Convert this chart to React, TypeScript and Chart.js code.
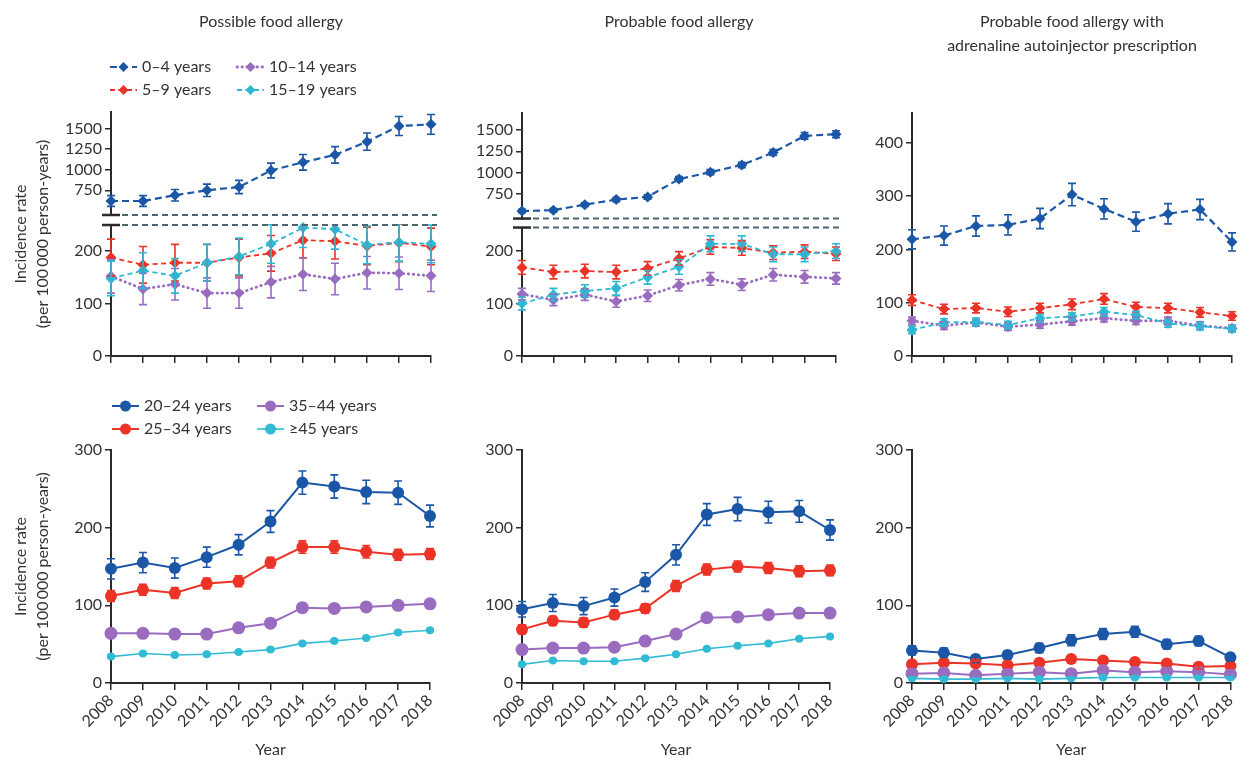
import React, { useEffect, useRef } from 'react';
import { Chart, registerables } from 'chart.js';

Chart.register(...registerables);

const FONT = 'Lato';
const TEXT = '#333333';
const AXIS = '#2a2a2a';
Chart.defaults.font.family = FONT;

// ---------- categories & labels ----------
const YEARS = ['2008', '2009', '2010', '2011', '2012', '2013', '2014', '2015', '2016', '2017', '2018'];
const CHILD_GROUPS = ['0–4 years', '5–9 years', '10–14 years', '15–19 years'];
const ADULT_GROUPS = ['20–24 years', '25–34 years', '35–44 years', '≥45 years'];
const PANEL_TITLES = [
  ['Possible food allergy'],
  ['Probable food allergy'],
  ['Probable food allergy with', 'adrenaline autoinjector prescription'],
];
const Y_TITLE = ['Incidence rate', '(per 100\u2009000 person-years)'];
const X_TITLE = 'Year';

// ---------- tick labels ----------
const UPPER_TICKS = [750, 1000, 1250, 1500];
const LOWER_TICKS = [0, 100, 200];
const EAI_CHILD_TICKS = [0, 100, 200, 300, 400];
const ADULT_TICKS = [0, 100, 200, 300];

// ---------- Possible food allergy, children ----------
const POSS_0_4 = [620, 620, 690, 750, 790, 990, 1090, 1180, 1340, 1530, 1550];
const POSS_0_4_ERR = [65, 65, 70, 75, 80, 90, 95, 100, 105, 115, 120];
const POSS_5_9 = [188, 174, 178, 178, 188, 196, 221, 219, 210, 216, 209];
const POSS_5_9_ERR = [35, 35, 35, 35, 35, 34, 34, 34, 36, 36, 35];
const POSS_10_14 = [152, 128, 137, 120, 120, 141, 156, 147, 159, 158, 153];
const POSS_10_14_ERR = [32, 30, 30, 29, 29, 30, 31, 30, 31, 31, 30];
const POSS_15_19 = [148, 163, 153, 178, 190, 214, 245, 242, 212, 217, 214];
const POSS_15_19_ERR = [33, 34, 33, 35, 35, 37, 38, 38, 36, 36, 36];

// ---------- Probable food allergy, children ----------
const PROB_0_4 = [550, 560, 625, 684, 715, 925, 1005, 1090, 1235, 1430, 1450];
const PROB_0_4_ERR = [20, 20, 22, 24, 25, 28, 30, 32, 35, 40, 40];
const PROB_5_9 = [169, 160, 162, 160, 167, 186, 208, 206, 197, 199, 195];
const PROB_5_9_ERR = [13, 13, 13, 13, 13, 13, 14, 14, 13, 13, 13];
const PROB_10_14 = [118, 107, 117, 104, 115, 135, 147, 136, 155, 151, 148];
const PROB_10_14_ERR = [11, 11, 11, 11, 11, 11, 12, 11, 12, 12, 11];
const PROB_15_19 = [100, 117, 124, 129, 150, 170, 214, 214, 194, 194, 200];
const PROB_15_19_ERR = [12, 12, 12, 13, 13, 14, 15, 15, 14, 14, 14];

// ---------- Probable + adrenaline autoinjector, children ----------
const EAI_0_4 = [219, 226, 244, 246, 258, 303, 276, 252, 267, 275, 214];
const EAI_0_4_ERR = [18, 18, 19, 19, 19, 21, 19, 18, 19, 19, 17];
const EAI_5_9 = [105, 88, 90, 83, 90, 97, 107, 92, 90, 82, 75];
const EAI_5_9_ERR = [10, 9, 9, 9, 9, 10, 10, 9, 9, 9, 8];
const EAI_10_14 = [66, 57, 63, 55, 59, 65, 71, 66, 66, 57, 52];
const EAI_10_14_ERR = [7, 7, 7, 7, 7, 7, 7, 7, 7, 7, 6];
const EAI_15_19 = [49, 63, 64, 58, 71, 74, 83, 77, 61, 56, 51];
const EAI_15_19_ERR = [7, 7, 7, 7, 7, 7, 8, 7, 7, 7, 6];

// ---------- Possible food allergy, adults ----------
const POSS_20_24 = [147, 155, 148, 162, 178, 208, 258, 253, 246, 245, 215];
const POSS_20_24_ERR = [13, 13, 13, 13, 13, 14, 15, 15, 15, 15, 14];
const POSS_25_34 = [112, 120, 116, 128, 131, 155, 175, 175, 169, 165, 166];
const POSS_25_34_ERR = [7, 7, 7, 7, 7, 7, 8, 8, 8, 7, 7];
const POSS_35_44 = [64, 64, 63, 63, 71, 77, 97, 96, 98, 100, 102];
const POSS_35_44_ERR = [4, 4, 4, 4, 4, 4, 4, 4, 4, 4, 4];
const POSS_45 = [34, 38, 36, 37, 40, 43, 51, 54, 58, 65, 68];
const POSS_45_ERR = [1.5, 1.5, 1.5, 1.5, 1.5, 1.5, 1.5, 1.5, 1.5, 1.5, 1.5];

// ---------- Probable food allergy, adults ----------
const PROB_20_24 = [95, 103, 99, 110, 130, 165, 217, 224, 220, 221, 197];
const PROB_20_24_ERR = [10, 11, 11, 11, 12, 13, 14, 15, 14, 14, 13];
const PROB_25_34 = [69, 80, 78, 88, 96, 125, 146, 150, 148, 144, 145];
const PROB_25_34_ERR = [6, 6, 6, 6, 6, 7, 7, 7, 7, 7, 7];
const PROB_35_44 = [43, 45, 45, 46, 54, 63, 84, 85, 88, 90, 90];
const PROB_35_44_ERR = [3, 3, 3, 3, 3, 4, 4, 4, 4, 4, 4];
const PROB_45 = [24, 29, 28, 28, 32, 37, 44, 48, 51, 57, 60];
const PROB_45_ERR = [1, 1, 1, 1, 1, 1, 1, 1, 1, 1, 1];

// ---------- Probable + adrenaline autoinjector, adults ----------
const EAI_20_24 = [42, 39, 31, 36, 45, 55, 63, 66, 50, 54, 33];
const EAI_20_24_ERR = [6, 6, 5, 5, 6, 7, 7, 7, 6, 6, 5];
const EAI_25_34 = [24, 26, 25, 23, 26, 31, 29, 27, 25, 21, 22];
const EAI_25_34_ERR = [3, 3, 3, 3, 3, 3, 3, 3, 3, 3, 3];
const EAI_35_44 = [12, 13, 10, 12, 14, 12, 16, 14, 15, 14, 11];
const EAI_35_44_ERR = [2, 2, 2, 2, 2, 2, 2, 2, 2, 2, 2];
const EAI_45 = [6, 5, 5, 6, 5, 6, 7, 7, 7, 7, 7];
const EAI_45_ERR = [1, 1, 1, 1, 1, 1, 1, 1, 1, 1, 1];

// ---------- styles ----------
const CHILD_STYLES = [
  { color: '#1b57a6', dash: [7, 4], width: 2.2, cap: 'butt' },
  { color: '#ec3327', dash: [5, 3.5], width: 1.8, cap: 'butt' },
  { color: '#9a6cc0', dash: [0.5, 4.5], width: 2.8, cap: 'round' },
  { color: '#2db8d3', dash: [5, 3.5], width: 1.8, cap: 'butt' },
];
const ADULT_STYLES = [
  { color: '#1b57a6', width: 2, radius: 6 },
  { color: '#ec3327', width: 2, radius: 6 },
  { color: '#9a6cc0', width: 2, radius: 6.5 },
  { color: '#31bbd4', width: 1.6, radius: 4 },
];

const PANELS: any[] = [
  {
    left: 0, top: 0, width: 450, height: 380,
    pad: { left: 61, right: 19, top: 112, bottom: 14 },
    child: true, title: PANEL_TITLES[0], yTitle: true,
    legend: { rows: [67, 90], cols: [-1, 126] },
    broken: { upperMin: 450, upperMax: 1700, lowerMax: 250, weights: [103, 10, 131] },
    series: [
      [POSS_0_4, POSS_0_4_ERR], [POSS_5_9, POSS_5_9_ERR], [POSS_10_14, POSS_10_14_ERR], [POSS_15_19, POSS_15_19_ERR],
    ],
  },
  {
    left: 450, top: 0, width: 410, height: 380,
    pad: { left: 22, right: 24, top: 113, bottom: 14 },
    child: true, title: PANEL_TITLES[1],
    broken: { upperMin: 462, upperMax: 1698, lowerMax: 245, weights: [106, 9, 129] },
    series: [
      [PROB_0_4, PROB_0_4_ERR], [PROB_5_9, PROB_5_9_ERR], [PROB_10_14, PROB_10_14_ERR], [PROB_15_19, PROB_15_19_ERR],
    ],
  },
  {
    left: 860, top: 0, width: 385, height: 380,
    pad: { left: 2, right: 13, top: 113, bottom: 14 },
    child: true, title: PANEL_TITLES[2],
    yMax: 456, yTicks: EAI_CHILD_TICKS,
    series: [
      [EAI_0_4, EAI_0_4_ERR], [EAI_5_9, EAI_5_9_ERR], [EAI_10_14, EAI_10_14_ERR], [EAI_15_19, EAI_15_19_ERR],
    ],
  },
  {
    left: 0, top: 380, width: 450, height: 380,
    pad: { left: 61, right: 20, top: 70, bottom: 1 },
    child: false, yTitle: true,
    legend: { rows: [26, 49], cols: [1, 146] },
    yMax: 300, yTicks: ADULT_TICKS,
    series: [
      [POSS_20_24, POSS_20_24_ERR], [POSS_25_34, POSS_25_34_ERR], [POSS_35_44, POSS_35_44_ERR], [POSS_45, POSS_45_ERR],
    ],
  },
  {
    left: 450, top: 380, width: 410, height: 380,
    pad: { left: 22, right: 30, top: 70, bottom: 1 },
    child: false,
    yMax: 300, yTicks: ADULT_TICKS,
    series: [
      [PROB_20_24, PROB_20_24_ERR], [PROB_25_34, PROB_25_34_ERR], [PROB_35_44, PROB_35_44_ERR], [PROB_45, PROB_45_ERR],
    ],
  },
  {
    left: 860, top: 380, width: 385, height: 380,
    pad: { left: 2, right: 13, top: 70, bottom: 1 },
    child: false,
    yMax: 300, yTicks: ADULT_TICKS,
    series: [
      [EAI_20_24, EAI_20_24_ERR], [EAI_25_34, EAI_25_34_ERR], [EAI_35_44, EAI_35_44_ERR], [EAI_45, EAI_45_ERR],
    ],
  },
];

// ---------- plugins ----------
function drawMarker(ctx: any, style: string, x: number, y: number, r: number) {
  ctx.beginPath();
  if (style === 'rectRot') {
    ctx.moveTo(x, y - r); ctx.lineTo(x + r, y); ctx.lineTo(x, y + r); ctx.lineTo(x - r, y); ctx.closePath();
  } else {
    ctx.arc(x, y, r, 0, Math.PI * 2);
  }
  ctx.fill();
}

const errorBarPlugin = {
  id: 'errorBars',
  afterDatasetsDraw(chart: any) {
    const ctx = chart.ctx;
    chart.data.datasets.forEach((ds: any, i: number) => {
      if (!ds.errors) return;
      const meta = chart.getDatasetMeta(i);
      const ys = chart.scales[meta.yAxisID];
      const xs = chart.scales[meta.xAxisID];
      ctx.save();
      ctx.beginPath();
      ctx.rect(0, ys.top - 1, chart.width, ys.bottom - ys.top + 2);
      ctx.clip();
      ctx.strokeStyle = ds.borderColor;
      ctx.lineWidth = 1.6;
      ctx.setLineDash([]);
      const cap = 4;
      ds.data.forEach((v: number, j: number) => {
        const x = xs.getPixelForValue(j);
        const y1 = ys.getPixelForValue(v - ds.errors[j]);
        const y2 = ys.getPixelForValue(v + ds.errors[j]);
        ctx.beginPath();
        ctx.moveTo(x, y1); ctx.lineTo(x, y2);
        ctx.moveTo(x - cap, y1); ctx.lineTo(x + cap, y1);
        ctx.moveTo(x - cap, y2); ctx.lineTo(x + cap, y2);
        ctx.stroke();
      });
      ctx.restore();
    });
  },
};

const breakPlugin = {
  id: 'axisBreak',
  afterDraw(chart: any) {
    const t = chart.scales.yTop, b = chart.scales.yBot;
    if (!t || !b) return;
    const ctx = chart.ctx;
    const { left, right } = chart.chartArea;
    ctx.save();
    [t.bottom, b.top].forEach((y: number) => {
      ctx.strokeStyle = '#4e6570';
      ctx.lineWidth = 2;
      ctx.setLineDash([6, 4]);
      ctx.beginPath(); ctx.moveTo(left + 11, y); ctx.lineTo(right + 6, y); ctx.stroke();
      ctx.setLineDash([]);
      ctx.strokeStyle = AXIS;
      ctx.lineWidth = 2.5;
      ctx.beginPath(); ctx.moveTo(left - 9, y); ctx.lineTo(left + 9, y); ctx.stroke();
    });
    ctx.restore();
  },
};

function decorPlugin(def: any) {
  return {
    id: 'decor',
    afterDraw(chart: any) {
      const ctx = chart.ctx;
      const ca = chart.chartArea;
      ctx.save();
      ctx.fillStyle = TEXT;
      ctx.textAlign = 'center';
      ctx.textBaseline = 'middle';
      ctx.font = `16px ${FONT}`;
      if (def.title) {
        def.title.forEach((t: string, i: number) => ctx.fillText(t, (ca.left + ca.right) / 2, 22 + i * 24));
      }
      if (def.yTitle) {
        const cy = (ca.top + ca.bottom) / 2;
        Y_TITLE.forEach((t, i) => {
          ctx.save();
          ctx.translate(21 + i * 22, cy);
          ctx.rotate(-Math.PI / 2);
          ctx.fillText(t, 0, 0);
          ctx.restore();
        });
      }
      if (def.legend) {
        const L = def.legend;
        chart.data.datasets.forEach((ds: any, i: number) => {
          const col = i < 2 ? 0 : 1;
          const row = i % 2;
          const x0 = ca.left + L.cols[col];
          const y = L.rows[row];
          ctx.strokeStyle = ds.borderColor;
          ctx.lineWidth = ds.borderWidth;
          ctx.lineCap = ds.borderCapStyle || 'butt';
          ctx.setLineDash(ds.borderDash || []);
          ctx.beginPath(); ctx.moveTo(x0, y); ctx.lineTo(x0 + 27, y); ctx.stroke();
          ctx.setLineDash([]);
          ctx.fillStyle = ds.borderColor;
          drawMarker(ctx, ds.pointStyle, x0 + 13.5, y, ds.pointStyle === 'rectRot' ? 5 : 5.5);
          ctx.fillStyle = TEXT;
          ctx.textAlign = 'left';
          ctx.font = `16px ${FONT}`;
          ctx.fillText(ds.label, x0 + 32, y);
        });
      }
      ctx.restore();
    },
  };
}

// ---------- config ----------
function yScale(min: number, max: number, ticks: number[], extra: any = {}) {
  return {
    type: 'linear',
    position: 'left',
    min, max,
    afterBuildTicks: (s: any) => { s.ticks = ticks.map((v) => ({ value: v })); },
    afterFit: (s: any) => { s.width = 50; },
    grid: { drawOnChartArea: false, drawTicks: true, tickLength: 6, color: AXIS, lineWidth: 1.5 },
    border: { display: true, color: AXIS, width: 2 },
    ticks: {
      font: { family: FONT, size: 16 }, color: TEXT, padding: 3, autoSkip: false,
      callback: (v: any) => String(v),
    },
    ...extra,
  };
}

function buildConfig(def: any) {
  const labels = def.child ? CHILD_GROUPS : ADULT_GROUPS;
  const datasets = def.series.map((s: any, i: number) => {
    const st: any = def.child ? CHILD_STYLES[i] : ADULT_STYLES[i];
    const yAxisID = def.broken ? (i === 0 ? 'yTop' : 'yBot') : 'y';
    return {
      label: labels[i],
      data: s[0],
      errors: s[1],
      yAxisID,
      borderColor: st.color,
      backgroundColor: st.color,
      borderWidth: st.width,
      borderDash: def.child ? st.dash : [],
      borderCapStyle: def.child ? st.cap : 'butt',
      pointStyle: def.child ? 'rectRot' : 'circle',
      pointRadius: def.child ? 5.5 : st.radius,
      pointBorderWidth: 0,
      pointBackgroundColor: st.color,
      fill: false,
      tension: 0,
      clip: false,
      order: 3 - i,
    };
  });

  const scales: any = {
    x: {
      type: 'category',
      offset: false,
      afterFit: (s: any) => { s.height = def.child ? 10 : 76; },
      grid: { drawOnChartArea: false, drawTicks: true, tickLength: 7, color: AXIS, lineWidth: 1.5, offset: false },
      border: { display: true, color: AXIS, width: 2 },
      ticks: def.child
        ? { display: false }
        : { font: { family: FONT, size: 16 }, color: TEXT, minRotation: 45, maxRotation: 45, padding: 1, autoSkip: false },
      title: def.child
        ? { display: false }
        : { display: true, text: X_TITLE, font: { family: FONT, size: 16 }, color: TEXT, padding: 0 },
    },
  };
  if (def.broken) {
    const b = def.broken;
    scales.yTop = yScale(b.upperMin, b.upperMax, UPPER_TICKS, { stack: 'brk', stackWeight: b.weights[0], weight: 3 });
    scales.yGap = {
      type: 'linear', position: 'left', min: 0, max: 1, stack: 'brk', stackWeight: b.weights[1], weight: 2,
      afterBuildTicks: (s: any) => { s.ticks = []; },
      afterFit: (s: any) => { s.width = 50; },
      grid: { display: false }, border: { display: false }, ticks: { display: false },
    };
    scales.yBot = yScale(0, b.lowerMax, LOWER_TICKS, { stack: 'brk', stackWeight: b.weights[2], weight: 1 });
  } else {
    scales.y = yScale(0, def.yMax, def.yTicks);
  }

  return {
    type: 'line',
    data: { labels: YEARS, datasets },
    options: {
      responsive: false,
      animation: false,
      devicePixelRatio: 1,
      layout: { padding: def.pad },
      plugins: { legend: { display: false }, tooltip: { enabled: false }, title: { display: false } },
      scales,
    },
    plugins: [errorBarPlugin, breakPlugin, decorPlugin(def)],
  };
}

function ChartPanel({ def }: { def: any }) {
  const ref = useRef<HTMLCanvasElement>(null);
  useEffect(() => {
    const chart = new Chart(ref.current as any, buildConfig(def) as any);
    return () => chart.destroy();
  }, [def]);
  return (
    <canvas
      ref={ref}
      width={def.width}
      height={def.height}
      style={{ position: 'absolute', left: def.left, top: def.top, width: def.width, height: def.height }}
    />
  );
}

export default function App() {
  return (
    <div style={{ position: 'absolute', left: 0, top: 0, width: 1245, height: 760, background: '#ffffff', overflow: 'hidden' }}>
      {PANELS.map((d, i) => <ChartPanel key={i} def={d} />)}
    </div>
  );
}
